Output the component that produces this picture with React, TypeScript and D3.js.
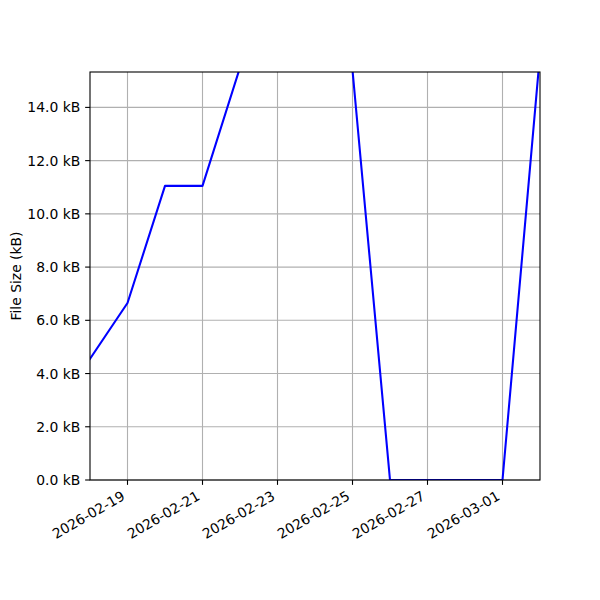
import React from "react";
import * as d3 from "d3";

const dates: string[] = [
  "2026-02-18", "2026-02-19", "2026-02-20", "2026-02-21", "2026-02-22", "2026-02-23",
  "2026-02-24", "2026-02-25", "2026-02-26", "2026-02-27", "2026-02-28", "2026-03-01", "2026-03-02",
];
const sizesKB: number[] = [4.55, 6.65, 11.05, 11.05, 15.5, 16.3, 16.6, 15.4, 0, 0, 0, 0, 16.0];
const xTickDates: string[] = ["2026-02-19", "2026-02-21", "2026-02-23", "2026-02-25", "2026-02-27", "2026-03-01"];
const yTicks: number[] = [0, 2, 4, 6, 8, 10, 12, 14];
const xDomain: string[] = ["2026-02-18", "2026-03-02"];
const yDomain: number[] = [0, 15.33];

const parse = (s: string) => {
  const [y, m, d] = s.split("-").map(Number);
  return new Date(Date.UTC(y, m - 1, d));
};

export default function App() {
  const W = 600, H = 600;
  const left = 90, right = 540, top = 72, bottom = 480;
  const fs = 13.9;
  const font = "DejaVu Sans, sans-serif";

  const x = d3.scaleUtc().domain(xDomain.map(parse)).range([left, right]);
  const y = d3.scaleLinear().domain(yDomain).range([bottom, top]);

  const line = d3
    .line<number>()
    .x((_, i) => x(parse(dates[i])))
    .y((v) => y(v));

  const tickLen = 4.86;
  const pad = 4.86;
  const asc = 0.76 * fs;
  const desc = 0.24 * fs;

  return (
    <svg
      width={W}
      height={H}
      style={{ position: "absolute", left: 0, top: 0, background: "#fff" }}
      fontFamily={font}
    >
      <rect x={0} y={0} width={W} height={H} fill="#fff" />
      <defs>
        <clipPath id="plot">
          <rect x={left} y={top} width={right - left} height={bottom - top} />
        </clipPath>
      </defs>
      {/* grid */}
      {xTickDates.map((d) => (
        <line
          key={"gx" + d}
          x1={x(parse(d))}
          x2={x(parse(d))}
          y1={top}
          y2={bottom}
          stroke="#b0b0b0"
          strokeWidth={1.1}
        />
      ))}
      {yTicks.map((v) => (
        <line
          key={"gy" + v}
          x1={left}
          x2={right}
          y1={y(v)}
          y2={y(v)}
          stroke="#b0b0b0"
          strokeWidth={1.1}
        />
      ))}
      {/* data line */}
      <path
        d={line(sizesKB) || ""}
        fill="none"
        stroke="#0000ff"
        strokeWidth={2.08}
        strokeLinejoin="round"
        strokeLinecap="square"
        clipPath="url(#plot)"
      />
      {/* spines */}
      <rect
        x={left}
        y={top}
        width={right - left}
        height={bottom - top}
        fill="none"
        stroke="#000"
        strokeWidth={1.1}
      />
      {/* y ticks */}
      {yTicks.map((v) => (
        <g key={"yt" + v}>
          <line x1={left - tickLen} x2={left} y1={y(v)} y2={y(v)} stroke="#000" strokeWidth={1.1} />
          <text
            x={left - tickLen - pad}
            y={y(v)}
            dy="0.36em"
            textAnchor="end"
            fontSize={fs}
            fill="#000"
          >
            {v.toFixed(1) + " kB"}
          </text>
        </g>
      ))}
      {/* x ticks */}
      {xTickDates.map((d) => {
        const tx = x(parse(d));
        const ax = tx - 0.5 * desc;
        const ay = bottom + tickLen + pad + 0.866 * asc;
        return (
          <g key={"xt" + d}>
            <line x1={tx} x2={tx} y1={bottom} y2={bottom + tickLen} stroke="#000" strokeWidth={1.1} />
            <text
              x={ax}
              y={ay}
              textAnchor="end"
              fontSize={fs}
              fill="#000"
              transform={`rotate(-30, ${ax}, ${ay})`}
            >
              {d}
            </text>
          </g>
        );
      })}
      {/* y label */}
      <text
        x={0}
        y={0}
        transform={`translate(${21}, ${(top + bottom) / 2}) rotate(-90)`}
        textAnchor="middle"
        fontSize={fs}
        fill="#000"
      >
        File Size (kB)
      </text>
    </svg>
  );
}
